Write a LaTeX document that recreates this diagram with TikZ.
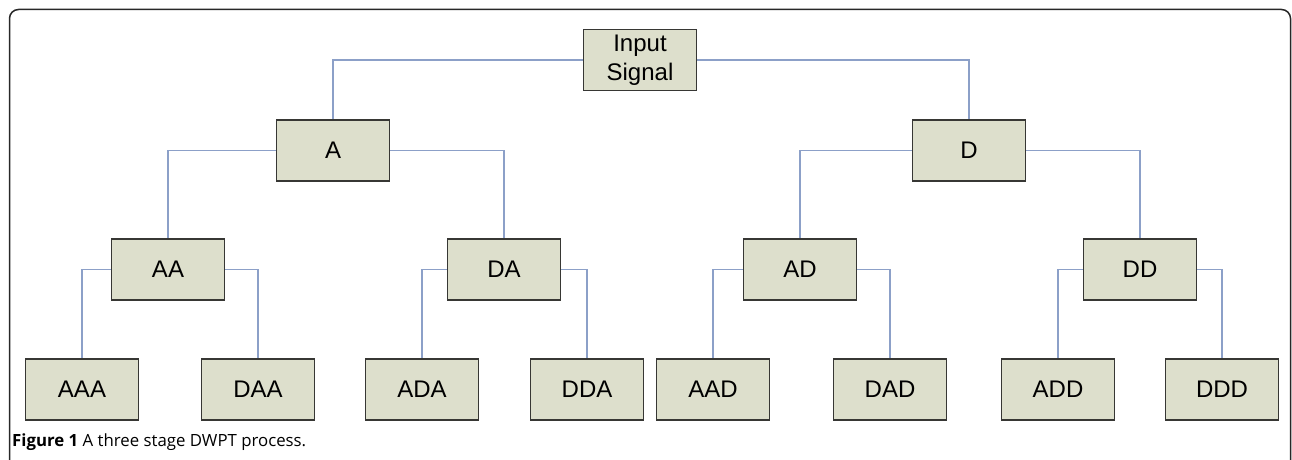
\documentclass[tikz,border=0pt]{standalone}
\usepackage{fontspec}
\setmainfont{Liberation Sans}
\newfontfamily\capfont{Open Sans}
\definecolor{boxfill}{RGB}{221,223,204}
\definecolor{boxborder}{RGB}{55,55,52}
\definecolor{linkblue}{RGB}{140,160,200}
\definecolor{framecol}{RGB}{40,40,40}
\begin{document}
\begin{tikzpicture}[x=1pt,y=-1pt,
  box/.style={draw=boxborder, fill=boxfill, line width=1.6pt, minimum width=113pt, minimum height=61pt, inner sep=0pt, font=\fontsize{24}{29}\selectfont, align=center},
  link/.style={draw=linkblue, line width=1.3pt}]
\useasboundingbox (0,0) rectangle (1292,460);
\begin{scope}
\clip (0,0) rectangle (1292,460);
\draw[framecol, line width=1.5pt, rounded corners=9pt] (9.5,480) -- (9.5,9.5) -- (1290.5,9.5) -- (1290.5,480);
\end{scope}
% nodes
\node[box] (in) at (640,60) {Input\\Signal};
\node[box] (a) at (333,150.5) {A};
\node[box] (d) at (969,150.5) {D};
\node[box] (aa) at (168,269.5) {AA};
\node[box] (da) at (504,269.5) {DA};
\node[box] (ad) at (800,269.5) {AD};
\node[box] (dd) at (1140,269.5) {DD};
\node[box] (aaa) at (82,389.5) {AAA};
\node[box] (daa) at (258,389.5) {DAA};
\node[box] (ada) at (422,389.5) {ADA};
\node[box] (dda) at (587,389.5) {DDA};
\node[box] (aad) at (713,389.5) {AAD};
\node[box] (dad) at (890,389.5) {DAD};
\node[box] (add) at (1058,389.5) {ADD};
\node[box] (ddd) at (1222,389.5) {DDD};
% links
\draw[link] (in.west) -| (a.north);
\draw[link] (in.east) -| (d.north);
\draw[link] (a.west) -| (aa.north);
\draw[link] (a.east) -| (da.north);
\draw[link] (d.west) -| (ad.north);
\draw[link] (d.east) -| (dd.north);
\draw[link] (aa.west) -| (aaa.north);
\draw[link] (aa.east) -| (daa.north);
\draw[link] (da.west) -| (ada.north);
\draw[link] (da.east) -| (dda.north);
\draw[link] (ad.west) -| (aad.north);
\draw[link] (ad.east) -| (dad.north);
\draw[link] (dd.west) -| (add.north);
\draw[link] (dd.east) -| (ddd.north);
% caption
\node[anchor=base west, inner sep=0pt, font=\capfont\fontsize{16.8}{20}\selectfont] (cap) at (12,446) {\textbf{Figure 1} A three stage DWPT process.};
\end{tikzpicture}
\end{document}
